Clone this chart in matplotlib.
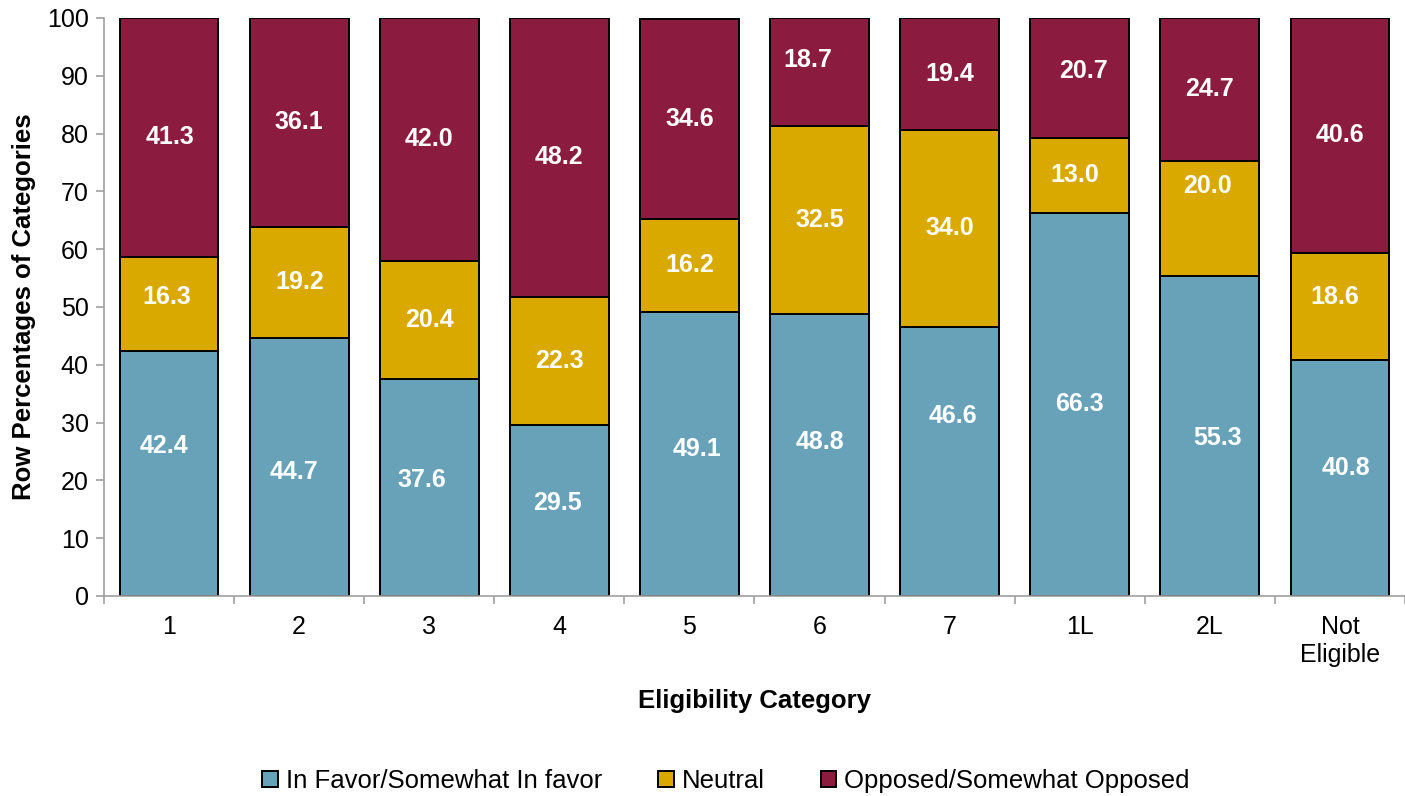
import numpy as np
import matplotlib.pyplot as plt

plt.rcParams['font.family'] = ['Liberation Sans', 'DejaVu Sans']

categories = ['1', '2', '3', '4', '5', '6', '7', '1L', '2L', 'Not\nEligible']
in_favor = [42.4, 44.7, 37.6, 29.5, 49.1, 48.8, 46.6, 66.3, 55.3, 40.8]
neutral = [16.3, 19.2, 20.4, 22.3, 16.2, 32.5, 34.0, 13.0, 20.0, 18.6]
opposed = [41.3, 36.1, 42.0, 48.2, 34.6, 18.7, 19.4, 20.7, 24.7, 40.6]
series_names = ['In Favor/Somewhat In favor', 'Neutral', 'Opposed/Somewhat Opposed']

# label nudges as seen in the original (dx in pixels, dy in data units)
nudge_favor = [(-5, 4.8), (-5, -0.9), (-7, 1.3), (-2, 1.3), (8, 0.9),
               (0, 2.3), (3, 7.8), (0, 0), (8, -0.4), (6, 1.7)]
nudge_neutral = [(-2, 1.2), (1, 0), (0, 0), (0, 0), (0, 0),
                 (0, 0), (0, 0), (-5, 0), (-2, 5.6), (-5, 1.6)]
nudge_opposed = [(1, 0), (0, 0), (0, 0), (0, 0), (0, 0),
                 (-12, 2.1), (0, 0), (4, 1.2), (0, 0), (0, 0)]

colors = ['#67A2B9', '#DAA900', '#8B1C40']
grey = '#A0A0A0'

fig = plt.figure(figsize=(14.05, 7.96), dpi=100)
ax = fig.add_axes([0.074, 0.2513, 0.926, 0.7261])

x = np.arange(len(categories))
bottom = np.zeros(len(categories))
for vals, nudges, c, name in zip([in_favor, neutral, opposed],
                                 [nudge_favor, nudge_neutral, nudge_opposed],
                                 colors, series_names):
    vals = np.array(vals)
    ax.bar(x, vals, 0.76, bottom=bottom, color=c, edgecolor='black',
           linewidth=1.4, label=name)
    for i, v in enumerate(vals):
        dx, dy = nudges[i]
        ax.annotate(f'{v:.1f}', xy=(x[i], bottom[i] + v / 2 + dy),
                    xytext=(dx * 0.72, 0), textcoords='offset points',
                    ha='center', va='center', color='white',
                    fontsize=18, fontweight='bold')
    bottom += vals

ax.set_xlim(-0.5, len(categories) - 0.5)
ax.set_ylim(0, 100)
ax.set_yticks(np.arange(0, 101, 10))
ax.set_xticks(x)
ax.set_xticklabels(categories)
ax.set_xticks(np.arange(-0.5, len(categories), 1), minor=True)
ax.tick_params(axis='x', which='major', length=0, pad=14, labelsize=18)
ax.tick_params(axis='x', which='minor', length=6, color=grey, width=1.2)
ax.tick_params(axis='y', length=6, color=grey, width=1.2, labelsize=18, pad=5)

for s in ['top', 'right']:
    ax.spines[s].set_visible(False)
for s in ['left', 'bottom']:
    ax.spines[s].set_color(grey)
    ax.spines[s].set_linewidth(1.2)

ax.set_xlabel('Eligibility Category', fontsize=18.5, fontweight='bold', labelpad=16)
ax.set_ylabel('Row Percentages of Categories', fontsize=18.5, fontweight='bold', labelpad=8)

handles, labels = ax.get_legend_handles_labels()
fig.legend(handles, labels, loc='center', bbox_to_anchor=(726 / 1405, 1 - 781 / 796),
           ncol=3, frameon=False, fontsize=18.5, handlelength=0.6, handleheight=0.6,
           handletextpad=0.3, columnspacing=2.2)

fig.savefig('out.png', dpi=100)
